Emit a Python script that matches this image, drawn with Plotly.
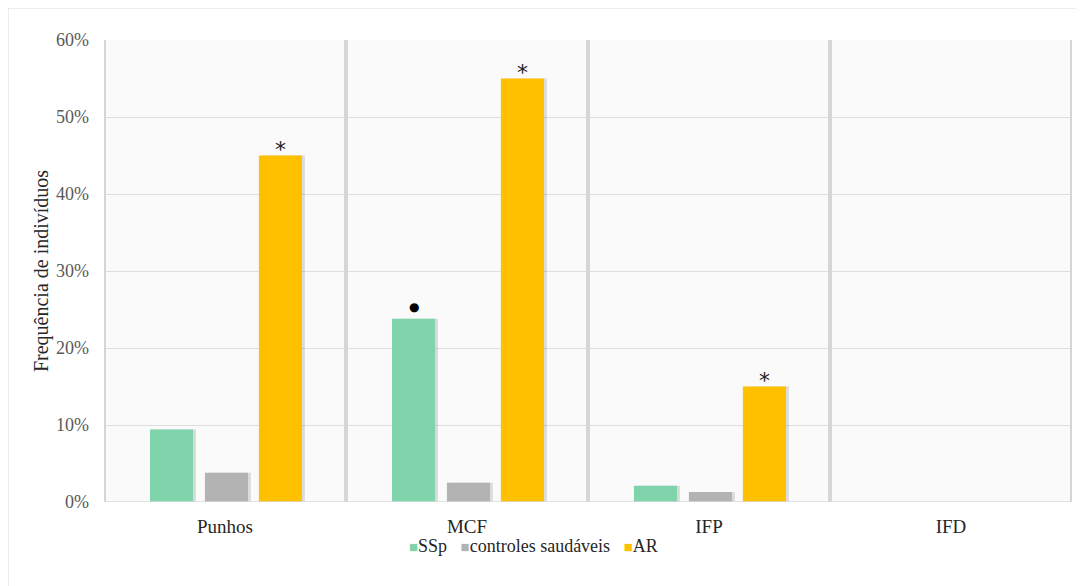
import plotly.graph_objects as go

categories = ["Punhos", "MCF", "IFP", "IFD"]
ssp = [9.4, 23.8, 2.1, 0.0]
controles = [3.8, 2.5, 1.3, 0.0]
ar = [45.0, 55.0, 15.0, 0.0]
series_names = ["SSp", "controles saudáveis", "AR"]
ar_marks = ["*", "*", "*", ""]
ssp_marks = ["", "●", "", ""]
y_ticks = [0, 10, 20, 30, 40, 50, 60]
y_tick_labels = ["0%", "10%", "20%", "30%", "40%", "50%", "60%"]

colors = ["#7fd4ac", "#b3b3b3", "#ffc000"]
font_family = "Liberation Serif"

W = 0.178
offsets = [-0.31, -0.083, 0.14]
xs = list(range(len(categories)))
series = [ssp, controles, ar]

fig = go.Figure()
# soft shadows
for vals, off in zip(series, offsets):
    fig.add_trace(go.Bar(
        x=xs, y=vals, width=W, offset=off + 0.012,
        marker=dict(color="rgba(0,0,0,0.12)", line=dict(width=0)),
        showlegend=False, hoverinfo="skip"))
for vals, off, name, col in zip(series, offsets, series_names, colors):
    fig.add_trace(go.Bar(
        x=xs, y=vals, width=W, offset=off, name=name, showlegend=False,
        marker=dict(color=col, line=dict(width=0))))

anns = []
for i, m in enumerate(ar_marks):
    if m:
        anns.append(dict(x=xs[i] + offsets[2] + W / 2, y=ar[i], text=m, showarrow=False,
                         yanchor="bottom", xref="x", yref="y",
                         font=dict(size=22, color="#222", family="DejaVu Sans"), yshift=-8))
for i, m in enumerate(ssp_marks):
    if m:
        anns.append(dict(x=xs[i] + offsets[0] + W / 2, y=ssp[i], text=m, showarrow=False,
                         yanchor="bottom", xref="x", yref="y",
                         font=dict(size=12, color="#000", family="DejaVu Sans"), yshift=3))

# legend drawn as text
legend_text = "\u00a0\u00a0\u00a0".join(
    f"<span style='color:{c};font-size:15px'>■</span>{n}" for c, n in zip(colors, series_names))
anns.append(dict(xref="paper", yref="paper", x=(533 - 104) / 968, y=-0.095,
                 xanchor="center", yanchor="middle",
                 text=legend_text, showarrow=False,
                 font=dict(size=18, color="#262626", family=font_family)))

shapes = []
for xv in [-0.5, 0.5, 1.5, 2.5, 3.5]:
    shapes.append(dict(type="line", xref="x", yref="paper", x0=xv, x1=xv, y0=0, y1=1,
                       line=dict(color="#d6d6d6", width=4), layer="above"))
shapes.append(dict(type="line", xref="x", yref="y", x0=-0.5, x1=3.5, y0=0, y1=0,
                   line=dict(color="#d9d9d9", width=1.5), layer="above"))
# outer frame
shapes.append(dict(type="rect", xref="paper", yref="paper",
                   x0=-96 / 968, x1=1.05, y0=-0.4, y1=1 + 32 / 462,
                   line=dict(color="#e6e6e6", width=1.5), layer="below"))

fig.update_layout(
    width=1076, height=578,
    margin=dict(l=96, r=12, t=32, b=84),
    paper_bgcolor="white", plot_bgcolor="#fafafa",
    barmode="overlay",
    showlegend=False,
    font=dict(family=font_family, color="#404040", size=15),
    xaxis=dict(tickmode="array", tickvals=xs, ticktext=categories, range=[-0.5, 3.5],
               showgrid=False, zeroline=False, showline=False, ticks="",
               ticklabelstandoff=11,
               tickfont=dict(size=19, color="#262626", family=font_family)),
    yaxis=dict(range=[0, 60], tickmode="array", tickvals=y_ticks, ticktext=y_tick_labels,
               showgrid=True, gridcolor="#dedede", gridwidth=1, zeroline=False,
               ticks="", ticklen=0, showline=False,
               ticklabelstandoff=14,
               tickfont=dict(size=18, color="#595959", family=font_family),
               title=dict(text="Frequência de indivíduos", standoff=2,
                          font=dict(size=20, color="#262626", family=font_family))),
    annotations=anns, shapes=shapes,
)

fig.write_html("out.html")
